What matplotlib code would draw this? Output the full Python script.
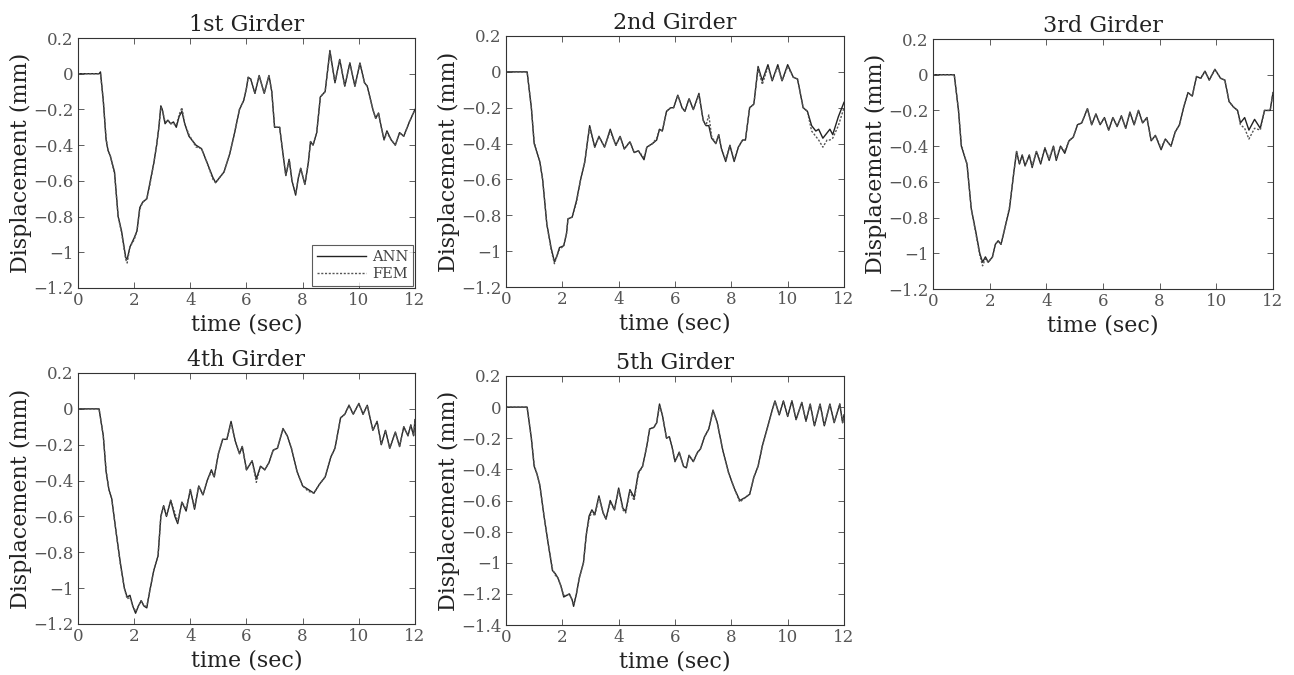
import matplotlib
matplotlib.use("Agg")
import matplotlib.pyplot as plt

# ---------------- data ----------------
titles = ["1st Girder", "2nd Girder", "3rd Girder", "4th Girder", "5th Girder"]

T1 = [0, 0.75, 0.8, 0.9, 1.0, 1.07, 1.15, 1.3, 1.43, 1.55,
      1.7, 1.75, 1.85, 2.0, 2.1, 2.2, 2.3, 2.45, 2.55, 2.7,
      2.8, 2.88, 2.95, 3.0, 3.1, 3.2, 3.3, 3.4, 3.5, 3.6,
      3.7, 3.8, 3.95, 4.2, 4.4, 4.6, 4.8, 4.9, 5.05, 5.2,
      5.4, 5.55, 5.75, 5.9, 6.0, 6.06, 6.15, 6.3, 6.45, 6.63,
      6.8, 6.9, 7.0, 7.18, 7.3, 7.4, 7.52, 7.62, 7.75, 7.85,
      7.93, 8.08, 8.2, 8.28, 8.37, 8.5, 8.63, 8.8, 8.97, 9.15,
      9.32, 9.5, 9.68, 9.86, 10.04, 10.2, 10.3, 10.5, 10.6, 10.7,
      10.8, 10.9, 11.0, 11.15, 11.3, 11.45, 11.6, 11.8, 12.0]
ANN1 = [0, 0.0, 0.01, -0.15, -0.37, -0.43, -0.46, -0.55, -0.8, -0.88,
        -1.03, -1.04, -0.97, -0.92, -0.88, -0.75, -0.72, -0.70, -0.62, -0.5,
        -0.4, -0.3, -0.18, -0.2, -0.28, -0.26, -0.28, -0.27, -0.30, -0.24,
        -0.21, -0.28, -0.35, -0.40, -0.42, -0.5, -0.58, -0.61, -0.58, -0.55,
        -0.45, -0.35, -0.2, -0.15, -0.08, -0.02, -0.03, -0.11, -0.01, -0.11,
        -0.01, -0.1, -0.3, -0.3, -0.45, -0.57, -0.48, -0.6, -0.68, -0.58,
        -0.53, -0.62, -0.5, -0.38, -0.40, -0.33, -0.13, -0.1, 0.13, -0.05,
        0.08, -0.07, 0.06, -0.07, 0.06, -0.05, -0.07, -0.2, -0.25, -0.22,
        -0.3, -0.37, -0.32, -0.37, -0.40, -0.33, -0.35, -0.27, -0.2]
FEM1 = [0, 0.0, 0.0, -0.15, -0.36, -0.43, -0.46, -0.56, -0.8, -0.89,
        -1.04, -1.06, -0.97, -0.93, -0.88, -0.76, -0.72, -0.70, -0.63, -0.5,
        -0.4, -0.3, -0.19, -0.2, -0.27, -0.26, -0.28, -0.28, -0.29, -0.23,
        -0.19, -0.28, -0.34, -0.41, -0.42, -0.5, -0.59, -0.61, -0.58, -0.55,
        -0.45, -0.35, -0.2, -0.15, -0.08, -0.02, -0.03, -0.11, -0.01, -0.11,
        -0.01, -0.1, -0.3, -0.3, -0.45, -0.57, -0.48, -0.6, -0.67, -0.58,
        -0.53, -0.62, -0.5, -0.38, -0.40, -0.33, -0.13, -0.1, 0.12, -0.05,
        0.08, -0.07, 0.06, -0.07, 0.06, -0.05, -0.07, -0.2, -0.25, -0.22,
        -0.3, -0.37, -0.33, -0.37, -0.40, -0.33, -0.35, -0.27, -0.2]

T2 = [0, 0.75, 0.9, 1.0, 1.1, 1.2, 1.3, 1.45, 1.6, 1.72,
      1.8, 1.9, 2.05, 2.15, 2.2, 2.35, 2.5, 2.65, 2.8, 2.9,
      2.97, 3.15, 3.3, 3.5, 3.7, 3.9, 4.05, 4.2, 4.4, 4.55,
      4.7, 4.9, 5.0, 5.2, 5.35, 5.45, 5.55, 5.7, 5.85, 5.95,
      6.1, 6.25, 6.35, 6.5, 6.65, 6.85, 7.0, 7.1, 7.2, 7.3,
      7.45, 7.55, 7.65, 7.8, 7.95, 8.1, 8.25, 8.4, 8.5, 8.65,
      8.8, 8.95, 9.1, 9.3, 9.45, 9.65, 9.8, 10.0, 10.2, 10.35,
      10.55, 10.7, 10.85, 11.0, 11.1, 11.25, 11.4, 11.5, 11.6, 11.8,
      12.0]
ANN2 = [0, 0.0, -0.2, -0.4, -0.45, -0.5, -0.6, -0.85, -0.98, -1.06,
        -1.03, -0.98, -0.97, -0.9, -0.82, -0.81, -0.72, -0.6, -0.5, -0.38,
        -0.3, -0.42, -0.36, -0.42, -0.32, -0.41, -0.36, -0.43, -0.39, -0.45,
        -0.44, -0.49, -0.42, -0.4, -0.38, -0.32, -0.33, -0.22, -0.2, -0.2,
        -0.13, -0.2, -0.22, -0.15, -0.21, -0.12, -0.27, -0.3, -0.3, -0.37,
        -0.4, -0.35, -0.43, -0.5, -0.41, -0.5, -0.42, -0.38, -0.38, -0.2,
        -0.18, 0.03, -0.05, 0.04, -0.05, 0.04, -0.05, 0.04, -0.03, -0.04,
        -0.2, -0.22, -0.3, -0.33, -0.32, -0.37, -0.34, -0.32, -0.35, -0.25,
        -0.17]
FEM2 = [0, 0.0, -0.2, -0.39, -0.45, -0.5, -0.6, -0.85, -0.99, -1.07,
        -1.03, -0.99, -0.97, -0.9, -0.82, -0.81, -0.73, -0.6, -0.5, -0.38,
        -0.31, -0.42, -0.36, -0.42, -0.33, -0.41, -0.36, -0.43, -0.39, -0.45,
        -0.44, -0.48, -0.42, -0.4, -0.37, -0.32, -0.33, -0.22, -0.2, -0.2,
        -0.13, -0.2, -0.22, -0.15, -0.21, -0.13, -0.27, -0.3, -0.24, -0.36,
        -0.4, -0.35, -0.43, -0.49, -0.41, -0.49, -0.42, -0.38, -0.38, -0.2,
        -0.18, 0.02, -0.07, 0.03, -0.05, 0.03, -0.05, 0.03, -0.03, -0.04,
        -0.2, -0.22, -0.33, -0.36, -0.38, -0.42, -0.38, -0.38, -0.37, -0.3,
        -0.2]

T3 = [0, 0.75, 0.9, 1.0, 1.1, 1.2, 1.35, 1.5, 1.65, 1.75,
      1.85, 1.95, 2.1, 2.2, 2.3, 2.4, 2.55, 2.7, 2.85, 2.95,
      3.05, 3.15, 3.25, 3.4, 3.5, 3.65, 3.8, 3.95, 4.1, 4.25,
      4.35, 4.5, 4.65, 4.8, 4.95, 5.1, 5.25, 5.45, 5.6, 5.75,
      5.9, 6.05, 6.2, 6.35, 6.5, 6.65, 6.8, 6.95, 7.1, 7.25,
      7.4, 7.55, 7.7, 7.85, 8.05, 8.2, 8.4, 8.55, 8.7, 8.85,
      9.0, 9.15, 9.3, 9.45, 9.6, 9.75, 9.95, 10.15, 10.3, 10.45,
      10.6, 10.75, 10.85, 11.0, 11.15, 11.35, 11.55, 11.7, 11.9, 12.0]
ANN3 = [0, 0.0, -0.2, -0.4, -0.45, -0.5, -0.75, -0.87, -1.0, -1.05,
        -1.02, -1.05, -1.02, -0.95, -0.93, -0.95, -0.85, -0.75, -0.55, -0.43,
        -0.5, -0.45, -0.51, -0.45, -0.52, -0.43, -0.5, -0.41, -0.48, -0.4,
        -0.48, -0.4, -0.44, -0.37, -0.35, -0.28, -0.27, -0.19, -0.28, -0.22,
        -0.28, -0.24, -0.31, -0.24, -0.29, -0.23, -0.3, -0.21, -0.28, -0.2,
        -0.27, -0.24, -0.37, -0.34, -0.42, -0.36, -0.4, -0.32, -0.28, -0.18,
        -0.1, -0.12, -0.01, -0.02, 0.02, -0.03, 0.03, -0.02, -0.03, -0.15,
        -0.18, -0.2, -0.27, -0.24, -0.31, -0.25, -0.3, -0.2, -0.2, -0.1]
FEM3 = [0, 0.0, -0.2, -0.39, -0.45, -0.5, -0.75, -0.88, -1.01, -1.07,
        -1.03, -1.05, -1.02, -0.95, -0.93, -0.95, -0.85, -0.74, -0.55, -0.43,
        -0.5, -0.45, -0.51, -0.45, -0.51, -0.43, -0.49, -0.41, -0.47, -0.4,
        -0.47, -0.4, -0.43, -0.37, -0.35, -0.28, -0.27, -0.19, -0.28, -0.22,
        -0.28, -0.24, -0.31, -0.24, -0.29, -0.23, -0.3, -0.21, -0.28, -0.2,
        -0.27, -0.24, -0.37, -0.34, -0.41, -0.36, -0.4, -0.32, -0.28, -0.18,
        -0.1, -0.12, -0.01, -0.02, 0.02, -0.03, 0.03, -0.02, -0.03, -0.15,
        -0.18, -0.2, -0.28, -0.3, -0.36, -0.3, -0.31, -0.2, -0.2, -0.1]

T4 = [0, 0.75, 0.9, 1.0, 1.1, 1.2, 1.35, 1.5, 1.65, 1.75,
      1.85, 1.95, 2.05, 2.15, 2.25, 2.35, 2.45, 2.55, 2.7, 2.85,
      2.95, 3.05, 3.15, 3.3, 3.45, 3.55, 3.7, 3.85, 4.0, 4.15,
      4.3, 4.45, 4.6, 4.75, 4.85, 5.0, 5.15, 5.3, 5.45, 5.6,
      5.75, 5.85, 6.0, 6.2, 6.35, 6.5, 6.65, 6.8, 6.95, 7.1,
      7.3, 7.45, 7.6, 7.8, 8.0, 8.2, 8.4, 8.6, 8.8, 9.0,
      9.15, 9.35, 9.5, 9.65, 9.8, 10.0, 10.15, 10.3, 10.5, 10.65,
      10.8, 10.95, 11.1, 11.3, 11.45, 11.6, 11.75, 11.85, 11.95, 12.0]
ANN4 = [0, 0.0, -0.15, -0.35, -0.45, -0.5, -0.68, -0.85, -1.0, -1.05,
        -1.04, -1.1, -1.14, -1.1, -1.07, -1.1, -1.11, -1.02, -0.9, -0.82,
        -0.6, -0.54, -0.6, -0.51, -0.6, -0.64, -0.52, -0.57, -0.45, -0.56,
        -0.43, -0.48, -0.4, -0.34, -0.38, -0.25, -0.17, -0.17, -0.07, -0.18,
        -0.25, -0.21, -0.34, -0.29, -0.39, -0.32, -0.34, -0.3, -0.23, -0.22,
        -0.11, -0.15, -0.22, -0.35, -0.43, -0.45, -0.47, -0.42, -0.38, -0.27,
        -0.22, -0.05, -0.03, 0.02, -0.03, 0.03, -0.03, 0.02, -0.12, -0.07,
        -0.2, -0.12, -0.22, -0.13, -0.21, -0.1, -0.15, -0.09, -0.15, -0.06]
FEM4 = [0, 0.0, -0.15, -0.34, -0.45, -0.5, -0.68, -0.86, -1.0, -1.06,
        -1.05, -1.1, -1.13, -1.1, -1.07, -1.1, -1.1, -1.02, -0.9, -0.82,
        -0.6, -0.54, -0.6, -0.51, -0.58, -0.63, -0.52, -0.56, -0.45, -0.55,
        -0.43, -0.48, -0.4, -0.35, -0.38, -0.25, -0.17, -0.17, -0.08, -0.18,
        -0.25, -0.21, -0.34, -0.29, -0.41, -0.32, -0.34, -0.3, -0.23, -0.22,
        -0.11, -0.15, -0.22, -0.35, -0.43, -0.46, -0.47, -0.42, -0.38, -0.27,
        -0.22, -0.05, -0.03, 0.02, -0.03, 0.03, -0.03, 0.02, -0.12, -0.07,
        -0.2, -0.12, -0.22, -0.13, -0.21, -0.1, -0.15, -0.09, -0.15, -0.06]

T5 = [0, 0.75, 0.9, 1.0, 1.1, 1.2, 1.35, 1.5, 1.65, 1.75,
      1.85, 1.95, 2.05, 2.15, 2.25, 2.35, 2.4, 2.5, 2.6, 2.75,
      2.85, 2.95, 3.05, 3.15, 3.3, 3.45, 3.55, 3.7, 3.85, 4.0,
      4.15, 4.25, 4.4, 4.55, 4.7, 4.85, 5.0, 5.1, 5.25, 5.35,
      5.45, 5.55, 5.7, 5.8, 5.9, 6.0, 6.15, 6.3, 6.4, 6.5,
      6.65, 6.8, 6.9, 7.05, 7.2, 7.35, 7.5, 7.7, 7.9, 8.1,
      8.3, 8.5, 8.65, 8.8, 8.95, 9.1, 9.3, 9.45, 9.55, 9.7,
      9.85, 10.0, 10.15, 10.3, 10.5, 10.65, 10.8, 10.95, 11.15, 11.3,
      11.5, 11.65, 11.85, 11.95, 12.0]
ANN5 = [0, 0.0, -0.2, -0.38, -0.43, -0.5, -0.7, -0.88, -1.05, -1.07,
        -1.1, -1.15, -1.22, -1.21, -1.2, -1.24, -1.28, -1.2, -1.1, -1.0,
        -0.82, -0.7, -0.66, -0.69, -0.57, -0.68, -0.72, -0.6, -0.66, -0.52,
        -0.65, -0.67, -0.53, -0.58, -0.42, -0.38, -0.25, -0.14, -0.13, -0.1,
        0.02, -0.05, -0.2, -0.19, -0.26, -0.35, -0.29, -0.38, -0.39, -0.31,
        -0.35, -0.29, -0.27, -0.19, -0.14, -0.02, -0.1, -0.28, -0.42, -0.52,
        -0.6, -0.58, -0.56, -0.45, -0.38, -0.25, -0.12, -0.02, 0.04, -0.05,
        0.04, -0.06, 0.04, -0.08, 0.03, -0.09, 0.02, -0.12, 0.02, -0.12,
        0.02, -0.1, 0.02, -0.1, -0.05]
FEM5 = [0, 0.0, -0.2, -0.37, -0.43, -0.5, -0.7, -0.88, -1.04, -1.08,
        -1.1, -1.15, -1.21, -1.21, -1.2, -1.24, -1.27, -1.2, -1.1, -1.0,
        -0.82, -0.72, -0.67, -0.7, -0.58, -0.68, -0.72, -0.61, -0.66, -0.53,
        -0.66, -0.68, -0.54, -0.6, -0.43, -0.38, -0.25, -0.14, -0.13, -0.1,
        0.01, -0.05, -0.2, -0.19, -0.26, -0.35, -0.29, -0.38, -0.39, -0.31,
        -0.35, -0.29, -0.27, -0.19, -0.14, -0.02, -0.1, -0.28, -0.42, -0.52,
        -0.61, -0.58, -0.56, -0.45, -0.38, -0.25, -0.12, -0.02, 0.04, -0.05,
        0.04, -0.06, 0.04, -0.08, 0.03, -0.09, 0.02, -0.12, 0.02, -0.12,
        0.02, -0.1, 0.02, -0.1, -0.05]

times = [T1, T2, T3, T4, T5]
ann = [ANN1, ANN2, ANN3, ANN4, ANN5]
fem = [FEM1, FEM2, FEM3, FEM4, FEM5]

yticks_a = [0.2, 0, -0.2, -0.4, -0.6, -0.8, -1, -1.2]
yticks_b = [0.2, 0, -0.2, -0.4, -0.6, -0.8, -1, -1.2, -1.4]
xticks = [0, 2, 4, 6, 8, 10, 12]

# ---------------- layout ----------------
W, H = 1294, 675
boxes = [(78, 415, 38, 288), (506, 844, 36, 287), (933, 1273, 39, 289),
         (78, 415, 373, 624), (506, 844, 376, 625)]

FONT = "DejaVu Serif"
plt.rcParams["font.family"] = FONT
plt.rcParams["axes.unicode_minus"] = True

fig = plt.figure(figsize=(W / 100, H / 100), dpi=100)

for i in range(5):
    l, r, t, b = boxes[i]
    ax = fig.add_axes([l / W, 1 - b / H, (r - l) / W, (b - t) / H])
    ax.plot(times[i], ann[i], color="#222222", lw=1.0, label="ANN")
    ax.plot(times[i], fem[i], color="#555555", lw=1.0, ls=(0, (1.5, 1.2)), label="FEM")
    ax.set_xlim(0, 12)
    if i == 4:
        ax.set_ylim(-1.4, 0.2)
        yt = yticks_b
    else:
        ax.set_ylim(-1.2, 0.2)
        yt = yticks_a
    ax.set_yticks(yt)
    ax.set_yticklabels([("%g" % v).replace("-", "\u2212") for v in yt])
    ax.set_xticks(xticks)
    ax.tick_params(direction="in", top=True, right=True, length=4, width=0.6,
                   labelsize=12, labelcolor="#555555", color="#444444", pad=3)
    for s in ax.spines.values():
        s.set_linewidth(0.8)
        s.set_color("#333333")
    ax.set_title(titles[i], fontsize=16, color="#222222", pad=5)
    ax.set_xlabel("time (sec)", fontsize=16, color="#222222", labelpad=3)
    ax.set_ylabel("Displacement (mm)", fontsize=16, color="#222222", labelpad=1)
    if i == 0:
        leg = ax.legend(loc="lower right", fontsize=10.5, frameon=True, fancybox=False,
                        edgecolor="#333333", handlelength=3.4, borderpad=0.3,
                        labelspacing=0.25, borderaxespad=0.15, handletextpad=0.4)
        leg.get_frame().set_linewidth(0.8)
        for txt in leg.get_texts():
            txt.set_color("#444444")

fig.savefig("out.png", dpi=100, facecolor="white")
